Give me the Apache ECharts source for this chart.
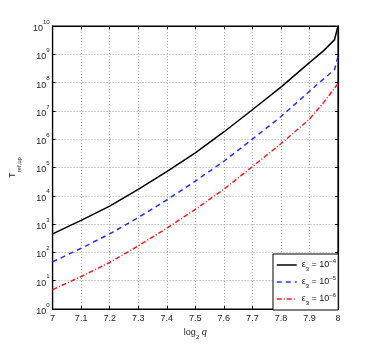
<!DOCTYPE html>
<html>
<head>
<meta charset="utf-8">
<script src="https://cdn.jsdelivr.net/npm/echarts@6/dist/echarts.min.js"></script>
<style>
  html, body { margin: 0; padding: 0; background: #fff; }
  #chart { width: 374px; height: 349px; }
</style>
</head>
<body>
<div id="chart"></div>
<script>
// log2 q sample points
var log2q = [7.0, 7.1, 7.2, 7.3, 7.4, 7.5, 7.6, 7.7, 7.8, 7.9, 7.95, 7.988, 8.0];
// T_ref,up
var tEps4 = [4.5e2, 1.35e3, 4.3e3, 1.7e4, 7.2e4, 3.3e5, 1.8e6, 1.1e7, 6.9e7, 5.1e8, 1.35e9, 3.3e9, 1e10];
var tEps5 = [4.6e1, 1.4e2, 4.5e2, 1.7e3, 7.1e3, 3.3e4, 1.66e5, 1.0e6, 6.3e6, 4.9e7, 1.35e8, 2.9e8, 8.3e8];
var tEps6 = [4.8, 1.4e1, 4.4e1, 1.7e2, 7.1e2, 3.3e3, 1.7e4, 1.07e5, 6.9e5, 5.1e6, 2.0e7, 6.3e7, 9.3e7];
var legendExp = ['-4', '-5', '-6'];
var seriesNames = ['eps4', 'eps5', 'eps6'];

var txt = '#222';
var font = 'Liberation Sans, Arial, sans-serif';
var blue = '#2233ff', red = '#ff1a1a';
var dash = [5, 4], dashDot = [5, 2, 1, 2];

function pairs(ys){
  var out = [];
  for (var i = 0; i < log2q.length; i++) out.push([log2q[i], ys[i]]);
  return out;
}

var supRich = {
  b: { fontSize: 9, color: txt, fontFamily: font, lineHeight: 14, verticalAlign: 'bottom' },
  s: { fontSize: 6, color: txt, fontFamily: font, lineHeight: 7, verticalAlign: 'top' }
};

var chart = echarts.init(document.getElementById('chart'));
var option = {
  animation: false,
  backgroundColor: '#fff',
  grid: {
    left: 48, right: 36, top: 26, bottom: 40,
    show: true, borderColor: '#000', borderWidth: 1.2, backgroundColor: '#fff'
  },
  legend: {
    orient: 'vertical',
    left: 273, top: 254,
    padding: [4, 2, 4, 3],
    backgroundColor: '#fff',
    borderColor: '#000', borderWidth: 1,
    itemWidth: 20, itemHeight: 10, itemGap: 3,
    itemStyle: { opacity: 0 },
    data: [
      { name: seriesNames[0], lineStyle: { color: '#000', width: 1.5, type: 'solid' } },
      { name: seriesNames[1], lineStyle: { color: blue, width: 1.5, type: dash } },
      { name: seriesNames[2], lineStyle: { color: red, width: 1.5, type: dashDot } }
    ],
    formatter: function(name){
      var i = seriesNames.indexOf(name);
      return '{a|ε}{d|3}{a| = 10}{u|' + legendExp[i].replace('-', '−') + '}';
    },
    textStyle: {
      rich: {
        a: { fontSize: 9, color: txt, fontFamily: font, lineHeight: 14 },
        d: { fontSize: 6, color: txt, fontFamily: font, lineHeight: 6, verticalAlign: 'bottom' },
        u: { fontSize: 6, color: txt, fontFamily: font, lineHeight: 7, verticalAlign: 'top' }
      }
    }
  },
  xAxis: [{
    type: 'value', min: 7, max: 8, interval: 0.1,
    name: '{a|log}{s|2}{a| }{i|q}',
    nameLocation: 'middle', nameGap: 12,
    nameTextStyle: {
      rich: {
        a: { fontSize: 9, color: txt, fontFamily: font, lineHeight: 12, verticalAlign: 'top' },
        i: { fontSize: 9, color: txt, fontFamily: font, fontStyle: 'italic', lineHeight: 12, verticalAlign: 'top' },
        s: { fontSize: 6, color: txt, fontFamily: font, lineHeight: 6, verticalAlign: 'bottom' }
      }
    },
    axisLine: { show: true, lineStyle: { color: '#000', width: 1.2 } },
    axisTick: { inside: true, length: 3, lineStyle: { color: '#000' } },
    axisLabel: {
      fontSize: 9, color: txt, fontFamily: font, margin: 5,
      formatter: function(v){ return String(Number(v.toFixed(1))); }
    },
    splitLine: { show: true, lineStyle: { color: '#aaa', type: [1, 2], width: 1 } }
  }, {
    type: 'value', position: 'top', min: 7, max: 8, interval: 0.1,
    axisLine: { show: true, lineStyle: { color: '#000', width: 1.2 } },
    axisTick: { inside: true, length: 3, lineStyle: { color: '#000' } },
    axisLabel: { show: false },
    splitLine: { show: false }
  }],
  yAxis: [{
    type: 'log', logBase: 10, min: 1, max: 1e10, interval: 1,
    name: '{t|T}{s|ref,up}',
    nameLocation: 'middle', nameGap: 25, nameRotate: 90,
    nameTextStyle: {
      rich: {
        t: { fontSize: 9, color: txt, fontFamily: font, lineHeight: 14, verticalAlign: 'top' },
        s: { fontSize: 6, color: txt, fontFamily: font, lineHeight: 7, verticalAlign: 'bottom' }
      }
    },
    axisLine: { show: true, lineStyle: { color: '#000', width: 1.2 } },
    axisTick: { inside: true, length: 3, lineStyle: { color: '#000' } },
    axisLabel: {
      margin: 3, rich: supRich,
      formatter: function(v){ return '{b|10}{s|' + Math.round(Math.log10(v)) + '}'; }
    },
    splitLine: { show: true, lineStyle: { color: '#aaa', type: [1, 2], width: 1 } }
  }, {
    type: 'log', logBase: 10, min: 1, max: 1e10, interval: 1, position: 'right',
    axisLine: { show: true, lineStyle: { color: '#000', width: 1.2 } },
    axisTick: { inside: true, length: 3, lineStyle: { color: '#000' } },
    axisLabel: { show: false },
    splitLine: { show: false }
  }],
  series: [{
    name: seriesNames[0], type: 'line', showSymbol: false, symbol: 'none',
    data: pairs(tEps4),
    lineStyle: { color: '#000', width: 1.5, type: 'solid' },
    itemStyle: { color: '#000' }
  }, {
    name: seriesNames[1], type: 'line', showSymbol: false, symbol: 'none',
    data: pairs(tEps5),
    lineStyle: { color: blue, width: 1.5, type: dash },
    itemStyle: { color: blue }
  }, {
    name: seriesNames[2], type: 'line', showSymbol: false, symbol: 'none',
    data: pairs(tEps6),
    lineStyle: { color: red, width: 1.5, type: dashDot },
    itemStyle: { color: red }
  }]
};
chart.setOption(option);
</script>
</body>
</html>
